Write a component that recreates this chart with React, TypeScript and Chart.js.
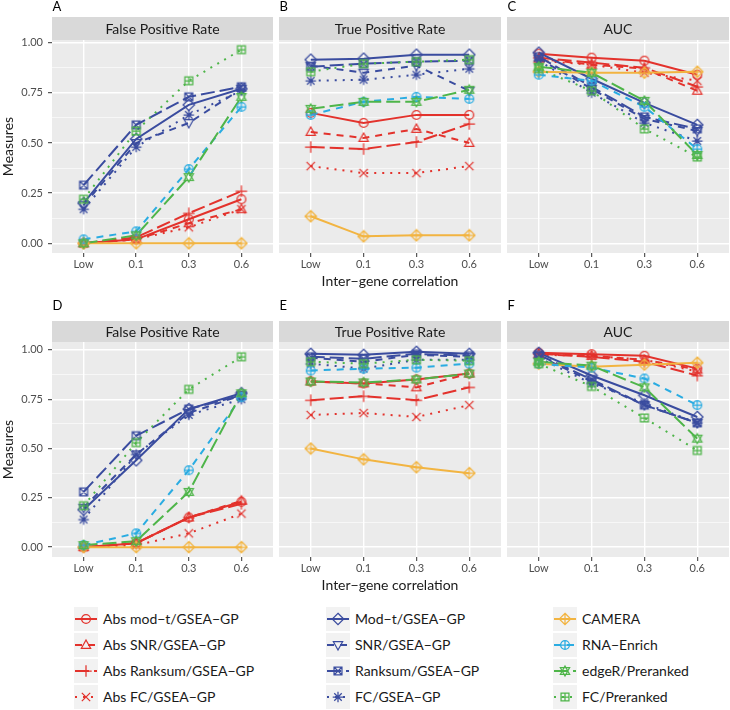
import React, { useEffect, useRef } from 'react';
import { Chart, registerables } from 'chart.js';
Chart.register(...registerables);

// ---------- data ----------
const xLabels = ['Low', '0.1', '0.3', '0.6'];
const seriesNames = [
  'Abs mod−t/GSEA−GP', 'Abs SNR/GSEA−GP', 'Abs Ranksum/GSEA−GP', 'Abs FC/GSEA−GP',
  'Mod−t/GSEA−GP', 'SNR/GSEA−GP', 'Ranksum/GSEA−GP', 'FC/GSEA−GP',
  'CAMERA', 'RNA−Enrich', 'edgeR/Preranked', 'FC/Preranked',
];
const yMajorTicks = [0, 0.25, 0.5, 0.75, 1];
const yMajorLabels = ['0.00', '0.25', '0.50', '0.75', '1.00'];
const yMinorTicks = [0.125, 0.375, 0.625, 0.875];
const panelTitles = ['False Positive Rate', 'True Positive Rate', 'AUC'];
const panelLetters = [['A', 'B', 'C'], ['D', 'E', 'F']];
const yAxisTitle = 'Measures';
const xAxisTitle = 'Inter−gene correlation';

// Panel A: False Positive Rate (top row)
const fprTop = [
  [0.00, 0.02, 0.12, 0.22],
  [0.00, 0.02, 0.10, 0.17],
  [0.00, 0.03, 0.15, 0.26],
  [0.00, 0.02, 0.08, 0.17],
  [0.20, 0.52, 0.69, 0.77],
  [0.19, 0.50, 0.60, 0.77],
  [0.29, 0.59, 0.73, 0.78],
  [0.17, 0.48, 0.64, 0.76],
  [0.00, 0.00, 0.00, 0.00],
  [0.02, 0.06, 0.37, 0.68],
  [0.00, 0.04, 0.33, 0.73],
  [0.22, 0.56, 0.81, 0.965],
];
// Panel B: True Positive Rate (top row)
const tprTop = [
  [0.65, 0.60, 0.64, 0.64],
  [0.555, 0.525, 0.57, 0.50],
  [0.48, 0.47, 0.505, 0.595],
  [0.385, 0.35, 0.35, 0.385],
  [0.915, 0.92, 0.94, 0.94],
  [0.885, 0.85, 0.885, 0.76],
  [0.88, 0.895, 0.905, 0.91],
  [0.81, 0.815, 0.84, 0.87],
  [0.135, 0.035, 0.04, 0.04],
  [0.64, 0.705, 0.73, 0.72],
  [0.67, 0.705, 0.705, 0.765],
  [0.855, 0.895, 0.905, 0.915],
];
// Panel C: AUC (top row)
const aucTop = [
  [0.945, 0.925, 0.91, 0.84],
  [0.92, 0.89, 0.87, 0.76],
  [0.925, 0.90, 0.875, 0.78],
  [0.91, 0.89, 0.85, 0.81],
  [0.95, 0.82, 0.70, 0.59],
  [0.92, 0.77, 0.62, 0.56],
  [0.93, 0.78, 0.63, 0.57],
  [0.91, 0.75, 0.60, 0.51],
  [0.855, 0.85, 0.85, 0.855],
  [0.84, 0.81, 0.68, 0.47],
  [0.88, 0.85, 0.71, 0.44],
  [0.87, 0.76, 0.57, 0.43],
];
// Panel D: False Positive Rate (bottom row)
const fprBottom = [
  [0.00, 0.02, 0.15, 0.23],
  [0.00, 0.02, 0.15, 0.235],
  [0.00, 0.02, 0.15, 0.22],
  [0.00, 0.01, 0.07, 0.17],
  [0.19, 0.44, 0.70, 0.78],
  [0.20, 0.47, 0.68, 0.77],
  [0.28, 0.565, 0.70, 0.77],
  [0.14, 0.47, 0.67, 0.75],
  [0.00, 0.00, 0.00, 0.00],
  [0.01, 0.07, 0.39, 0.76],
  [0.01, 0.03, 0.28, 0.78],
  [0.21, 0.53, 0.80, 0.965],
];
// Panel E: True Positive Rate (bottom row)
const tprBottom = [
  [0.84, 0.83, 0.85, 0.88],
  [0.84, 0.83, 0.81, 0.88],
  [0.745, 0.765, 0.745, 0.81],
  [0.67, 0.68, 0.66, 0.72],
  [0.98, 0.975, 0.99, 0.98],
  [0.96, 0.94, 0.975, 0.965],
  [0.965, 0.955, 0.98, 0.97],
  [0.93, 0.905, 0.95, 0.95],
  [0.50, 0.445, 0.405, 0.375],
  [0.895, 0.905, 0.91, 0.93],
  [0.84, 0.835, 0.85, 0.88],
  [0.94, 0.93, 0.95, 0.945],
];
// Panel F: AUC (bottom row)
const aucBottom = [
  [0.985, 0.978, 0.97, 0.905],
  [0.98, 0.97, 0.95, 0.90],
  [0.98, 0.965, 0.94, 0.87],
  [0.975, 0.97, 0.95, 0.89],
  [0.985, 0.87, 0.77, 0.66],
  [0.97, 0.84, 0.72, 0.63],
  [0.975, 0.85, 0.72, 0.63],
  [0.96, 0.83, 0.73, 0.63],
  [0.93, 0.915, 0.925, 0.935],
  [0.93, 0.91, 0.855, 0.72],
  [0.94, 0.92, 0.81, 0.55],
  [0.93, 0.815, 0.655, 0.49],
];

const panelData = [[fprTop, tprTop, aucTop], [fprBottom, tprBottom, aucBottom]];

// ---------- styles ----------
const RED = '#E3322C';
const BLUE = '#3A4C9F';
const GOLD = '#F2B441';
const SKY = '#2AACE2';
const GREEN = '#4EB549';
const seriesColors = [RED, RED, RED, RED, BLUE, BLUE, BLUE, BLUE, GOLD, SKY, GREEN, GREEN];
const seriesDash = ['solid', 'dashed', 'longdash', 'dotted', 'solid', 'dashed', 'longdash', 'dotted', 'solid', 'dashed', 'longdash', 'dotted'];
const seriesShape = ['circle', 'triangle', 'plus', 'cross', 'diamond', 'triangleDown', 'squareCross', 'asterisk', 'diamondPlus', 'circlePlus', 'starDavid', 'squarePlus'];
const dashMap: Record<string, number[]> = { solid: [], dashed: [7, 6], longdash: [14, 5], dotted: [2, 6] };

const FONT = 'Lato, "Open Sans", "DejaVu Sans", sans-serif';
const rowLimits = [[-0.048, 1.013], [-0.05, 1.04]];
const rowGeom = [
  { top: 0, height: 292, padTop: 40, stripTop: 17, letterY: 7, panelH: 213 },
  { top: 300, height: 296, padTop: 42, stripTop: 21, letterY: 5.5, panelH: 215 },
];
const colGeom = [
  { left: 0, width: 273, axisW: 52 },
  { left: 279, width: 222, axisW: 0 },
  { left: 507, width: 222, axisW: 0 },
];

const markerCache: Record<string, HTMLCanvasElement> = {};
function getMarker(shape: string, color: string): HTMLCanvasElement {
  const key = shape + color;
  if (markerCache[key]) return markerCache[key];
  const s = 14;
  const c = document.createElement('canvas');
  c.width = s; c.height = s;
  const ctx = c.getContext('2d')!;
  ctx.strokeStyle = color;
  ctx.lineWidth = 1.25;
  const m = 7, r = 4.4;
  const tri = (up: boolean) => {
    const k = up ? 1 : -1;
    ctx.moveTo(m, m - k * r * 1.15);
    ctx.lineTo(m + r * 1.05, m + k * r * 0.75);
    ctx.lineTo(m - r * 1.05, m + k * r * 0.75);
    ctx.closePath();
  };
  const plus = (d: number) => {
    ctx.moveTo(m - d, m); ctx.lineTo(m + d, m);
    ctx.moveTo(m, m - d); ctx.lineTo(m, m + d);
  };
  const cross = (d: number) => {
    ctx.moveTo(m - d, m - d); ctx.lineTo(m + d, m + d);
    ctx.moveTo(m + d, m - d); ctx.lineTo(m - d, m + d);
  };
  const diamond = (d: number) => {
    ctx.moveTo(m, m - d); ctx.lineTo(m + d, m); ctx.lineTo(m, m + d); ctx.lineTo(m - d, m); ctx.closePath();
  };
  const square = (d: number) => { ctx.rect(m - d, m - d, 2 * d, 2 * d); };
  ctx.beginPath();
  switch (shape) {
    case 'circle': ctx.arc(m, m, r, 0, Math.PI * 2); break;
    case 'triangle': tri(true); break;
    case 'triangleDown': tri(false); break;
    case 'plus': plus(r * 1.3); break;
    case 'cross': cross(r * 0.95); break;
    case 'diamond': diamond(r * 1.3); break;
    case 'squareCross': square(r * 0.9); cross(r * 0.9); break;
    case 'asterisk': plus(r * 1.2); cross(r * 0.85); break;
    case 'diamondPlus': diamond(r * 1.3); plus(r * 1.3); break;
    case 'circlePlus': ctx.arc(m, m, r, 0, Math.PI * 2); ctx.moveTo(m - r, m); ctx.lineTo(m + r, m); ctx.moveTo(m, m - r); ctx.lineTo(m, m + r); break;
    case 'starDavid': tri(true); tri(false); break;
    case 'squarePlus': square(r * 0.9); plus(r * 0.9); break;
  }
  ctx.stroke();
  markerCache[key] = c;
  return c;
}

function PanelChart({ row, col }: { row: number; col: number }) {
  const ref = useRef<HTMLCanvasElement>(null);
  const rg = rowGeom[row];
  const cg = colGeom[col];
  useEffect(() => {
    const values = panelData[row][col];
    const lineSets: any[] = [];
    const pointSets: any[] = [];
    values.forEach((vals, si) => {
      const pts = vals.map((v, i) => ({ x: i, y: v }));
      lineSets.push({
        label: seriesNames[si], data: pts, borderColor: seriesColors[si], backgroundColor: seriesColors[si],
        borderWidth: 2, borderDash: dashMap[seriesDash[si]], pointRadius: 0, tension: 0, fill: false, order: 1, clip: false,
      });
      pointSets.push({
        label: seriesNames[si] + ' pts', data: pts, showLine: false, borderColor: seriesColors[si],
        pointStyle: getMarker(seriesShape[si], seriesColors[si]), pointRadius: 5, order: 0, clip: false,
      });
    });
    const datasets = [...lineSets.reverse(), ...pointSets.reverse()];
    const allY = [...yMajorTicks, ...yMinorTicks].sort((a, b) => a - b);
    const deco = {
      id: 'deco',
      beforeDraw(chart: any) {
        const { ctx, chartArea: a } = chart;
        ctx.save();
        ctx.fillStyle = '#EBEBEB';
        ctx.fillRect(a.left, a.top, a.right - a.left, a.bottom - a.top);
        ctx.restore();
      },
      afterDraw(chart: any) {
        const { ctx, chartArea: a } = chart;
        ctx.save();
        ctx.fillStyle = '#D9D9D9';
        ctx.fillRect(a.left, rg.stripTop, a.right - a.left, a.top - rg.stripTop);
        ctx.fillStyle = '#1A1A1A';
        ctx.font = `14px ${FONT}`;
        ctx.textAlign = 'center';
        ctx.textBaseline = 'middle';
        ctx.fillText(panelTitles[col], (a.left + a.right) / 2, (rg.stripTop + a.top) / 2 + 0.5);
        ctx.textAlign = 'left';
        ctx.font = `13px ${FONT}`;
        ctx.fillStyle = '#000';
        ctx.fillText(panelLetters[row][col], a.left + 0.5, rg.letterY);
        ctx.restore();
      },
    };
    const chart = new Chart(ref.current!, {
      type: 'line',
      data: { datasets },
      plugins: [deco],
      options: {
        animation: false,
        responsive: false,
        events: [],
        layout: { padding: { top: rg.padTop, left: 0, right: 0, bottom: 0 }, autoPadding: false },
        plugins: { legend: { display: false }, tooltip: { enabled: false }, title: { display: false } },
        scales: {
          x: {
            type: 'linear', min: -0.6, max: 3.6,
            afterBuildTicks: (s: any) => { s.ticks = xLabels.map((_, i) => ({ value: i })); },
            afterFit: (s: any) => { s.height = rg.height - rg.padTop - rg.panelH; },
            ticks: {
              callback: (v: any) => xLabels[v] ?? '',
              color: '#4D4D4D', font: { family: FONT, size: 11 }, padding: 1, maxRotation: 0, autoSkip: false,
            },
            grid: { color: '#FFFFFF', lineWidth: 1.4, tickLength: 4, tickColor: '#333333', tickWidth: 1, drawTicks: true },
            border: { display: false },
            title: {
              display: col === 1, text: xAxisTitle, color: '#1A1A1A',
              font: { family: FONT, size: 14 }, padding: { top: 0, bottom: 2 },
            },
          },
          y: {
            type: 'linear', min: rowLimits[row][0], max: rowLimits[row][1],
            afterBuildTicks: (s: any) => { s.ticks = allY.map((v) => ({ value: v })); },
            afterFit: (s: any) => { s.width = cg.axisW; },
            ticks: {
              display: col === 0,
              callback: (v: any) => { const i = yMajorTicks.indexOf(v); return i >= 0 ? yMajorLabels[i] : ''; },
              color: '#4D4D4D', font: { family: FONT, size: 11 }, padding: 5, autoSkip: false,
            },
            grid: {
              color: '#FFFFFF',
              lineWidth: (c: any) => (yMajorTicks.includes(c.tick?.value) ? 1.4 : 0.6),
              tickLength: 4,
              tickWidth: 1,
              tickColor: (c: any) => (col === 0 && yMajorTicks.includes(c.tick?.value) ? '#333333' : 'rgba(0,0,0,0)'),
              drawTicks: col === 0,
            },
            border: { display: false },
            title: {
              display: col === 0, text: yAxisTitle, color: '#1A1A1A',
              font: { family: FONT, size: 14 }, padding: { top: 0, bottom: 0 },
            },
          },
        },
      } as any,
    });
    return () => chart.destroy();
  }, [row, col]);
  return (
    <canvas
      ref={ref}
      width={cg.width}
      height={rg.height}
      style={{ position: 'absolute', left: cg.left, top: rg.top, width: cg.width, height: rg.height }}
    />
  );
}

function LegendKey({ si }: { si: number }) {
  const ref = useRef<HTMLCanvasElement>(null);
  useEffect(() => {
    const ctx = ref.current!.getContext('2d')!;
    ctx.clearRect(0, 0, 24, 24);
    ctx.fillStyle = '#F2F2F2';
    ctx.fillRect(0, 0, 24, 24);
    ctx.strokeStyle = seriesColors[si];
    ctx.lineWidth = 2;
    ctx.setLineDash(dashMap[seriesDash[si]]);
    ctx.beginPath();
    ctx.moveTo(1, 12);
    ctx.lineTo(23, 12);
    ctx.stroke();
    ctx.setLineDash([]);
    const mk = getMarker(seriesShape[si], seriesColors[si]);
    ctx.drawImage(mk, 12 - mk.width / 2, 12 - mk.height / 2);
  }, [si]);
  return <canvas ref={ref} width={24} height={24} style={{ position: 'absolute', left: 0, top: 0 }} />;
}

const legendColLeft = [74, 326, 553];
const legendRowCenter = [619, 645, 671, 697];

export default function App() {
  const panels: any[] = [];
  for (let r = 0; r < 2; r++) for (let c = 0; c < 3; c++) panels.push(<PanelChart key={`${r}-${c}`} row={r} col={c} />);
  return (
    <div style={{ position: 'fixed', left: 0, top: 0, width: 730, height: 710, background: '#FFFFFF', overflow: 'hidden' }}>
      {panels}
      {seriesNames.map((name, si) => {
        const c = Math.floor(si / 4);
        const r = si % 4;
        return (
          <div key={name} style={{ position: 'absolute', left: legendColLeft[c], top: legendRowCenter[r] - 12, height: 24, width: 220 }}>
            <LegendKey si={si} />
            <span style={{ position: 'absolute', left: 29, top: 0, lineHeight: '24px', fontFamily: FONT, fontSize: 14, color: '#1A1A1A', whiteSpace: 'nowrap' }}>{name}</span>
          </div>
        );
      })}
    </div>
  );
}
